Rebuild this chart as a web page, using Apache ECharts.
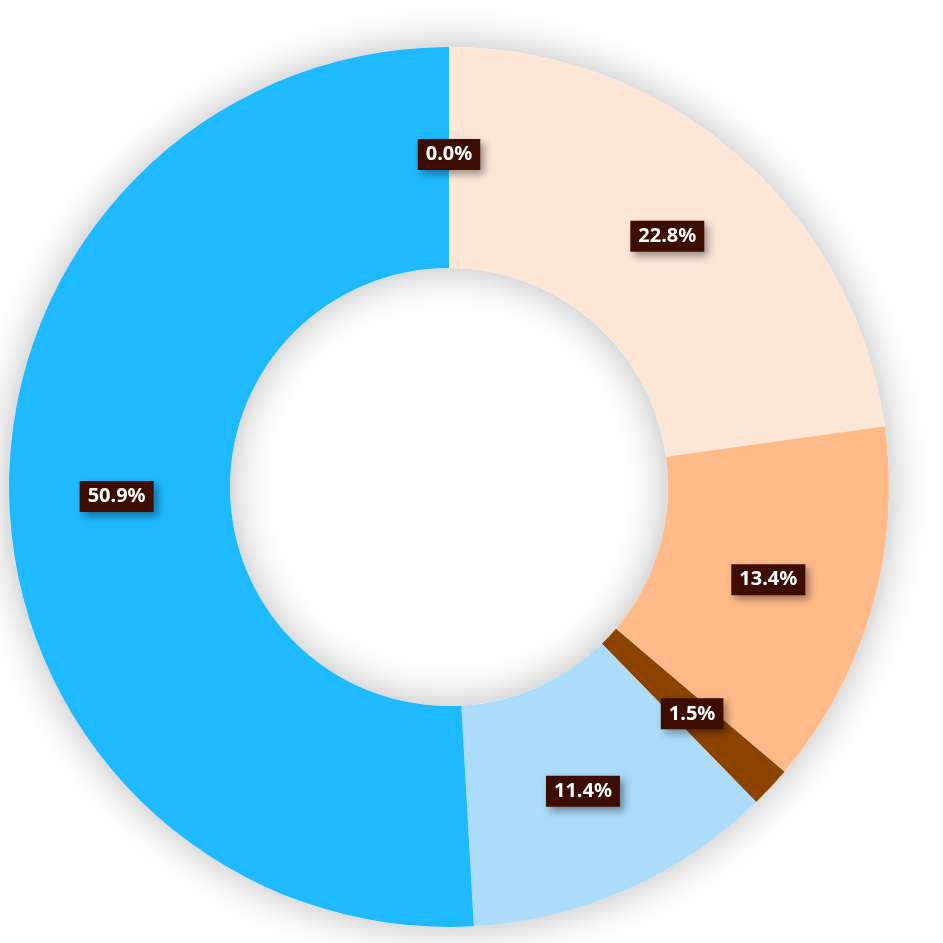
<!DOCTYPE html>
<html><head><meta charset="utf-8">
<script src="https://cdn.jsdelivr.net/npm/echarts@6/dist/echarts.min.js"></script>
<style>html,body{margin:0;padding:0;background:#fff}#c{width:943px;height:943px}</style>
</head><body><div id="c"></div>
<script>
const categories = ['A', 'B', 'C', 'D', 'E', 'F'];
const values = [22.8, 13.4, 1.5, 11.4, 50.9, 0.0];
const colors = ['#fee6d7', '#febb89', '#8c4300', '#acdcfa', '#1fb9ff', '#1fb9ff'];

const chart = echarts.init(document.getElementById('c'));
chart.setOption({
  animation: false,
  series: [{
    type: 'pie',
    silent: true,
    center: [449, 487],
    radius: [219, 440],
    z: 1,
    data: [{ value: 1, itemStyle: { color: '#ffffff', shadowBlur: 40, shadowColor: 'rgba(0,0,0,0.28)' } }],
    label: { show: false },
    labelLine: { show: false }
  }, {
    type: 'pie',
    center: [449, 487],
    radius: [219, 440],
    z: 2,
    startAngle: 90,
    clockwise: true,
    avoidLabelOverlap: false,
    data: categories.map((n, i) => ({ name: n, value: values[i], itemStyle: { color: colors[i] } })),
    label: {
      show: true,
      position: 'inside',
      formatter: p => p.percent.toFixed(1) + '%',
      color: '#fff',
      fontFamily: 'Noto Sans',
      fontWeight: 'bold',
      fontSize: 20,
      lineHeight: 20,
      backgroundColor: '#3d0d00',
      padding: [6, 8, 5, 8],
      shadowBlur: 8,
      shadowOffsetX: 4,
      shadowOffsetY: 4,
      shadowColor: 'rgba(0,0,0,0.4)'
    },
    labelLine: { show: false }
  }]
});
</script></body></html>
